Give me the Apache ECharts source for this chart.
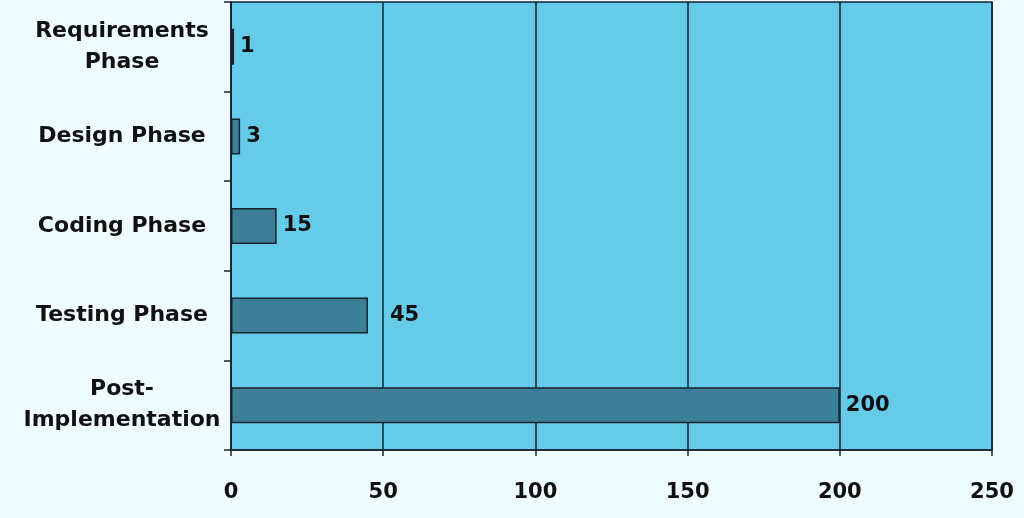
<!DOCTYPE html>
<html>
<head>
<meta charset="utf-8">
<script src="https://cdn.jsdelivr.net/npm/echarts@6/dist/echarts.min.js"></script>
<style>
html,body{margin:0;padding:0;background:#effcff;}
#chart{width:1024px;height:518px;}
</style>
</head>
<body>
<div id="chart"></div>
<script>
// Data
const categories = ['Requirements\nPhase', 'Design Phase', 'Coding Phase', 'Testing Phase', 'Post-\nImplementation'];
const values = [1, 3, 15, 45, 200];
const xTicks = [0, 50, 100, 150, 200, 250];

const FONT = '"DejaVu Sans", sans-serif';
const labelDistanceOverride = {3: 22};
const LINE = '#17222f';

const chart = echarts.init(document.getElementById('chart'));
chart.setOption({
  backgroundColor: '#effcff',
  animation: false,
  grid: {
    left: 231, right: 32, top: 2, bottom: 68,
    show: true, backgroundColor: '#66cbe9', borderColor: LINE, borderWidth: 1.5
  },
  xAxis: {
    type: 'value',
    min: xTicks[0], max: xTicks[xTicks.length - 1], interval: 50,
    axisLine: {show: true, lineStyle: {color: LINE, width: 1.5}},
    axisTick: {show: true, length: 6, lineStyle: {color: LINE, width: 1.5}},
    splitLine: {show: true, lineStyle: {color: LINE, width: 1.5}},
    axisLabel: {margin: 32, color: '#111', fontFamily: FONT, fontWeight: 'bold', fontSize: 21}
  },
  yAxis: {
    type: 'category',
    inverse: true,
    data: categories,
    axisLine: {show: true, lineStyle: {color: LINE, width: 1.5}},
    axisTick: {show: true, length: 7, lineStyle: {color: LINE, width: 1.5}},
    axisLabel: {
      align: 'center', margin: 109, color: '#111', fontFamily: FONT, fontWeight: 'bold',
      fontSize: 22, lineHeight: 31
    }
  },
  series: [{
    type: 'bar',
    barWidth: 36,
    data: values.map((v, i) => ({
      value: v,
      label: labelDistanceOverride[i] !== undefined ? {distance: labelDistanceOverride[i]} : undefined
    })),
    itemStyle: {color: '#3c7f97', borderColor: LINE, borderWidth: 1.5},
    label: {
      show: true, position: 'right', distance: 6, color: '#111',
      fontFamily: FONT, fontWeight: 'bold', fontSize: 21
    }
  }]
});
</script>
</body>
</html>
